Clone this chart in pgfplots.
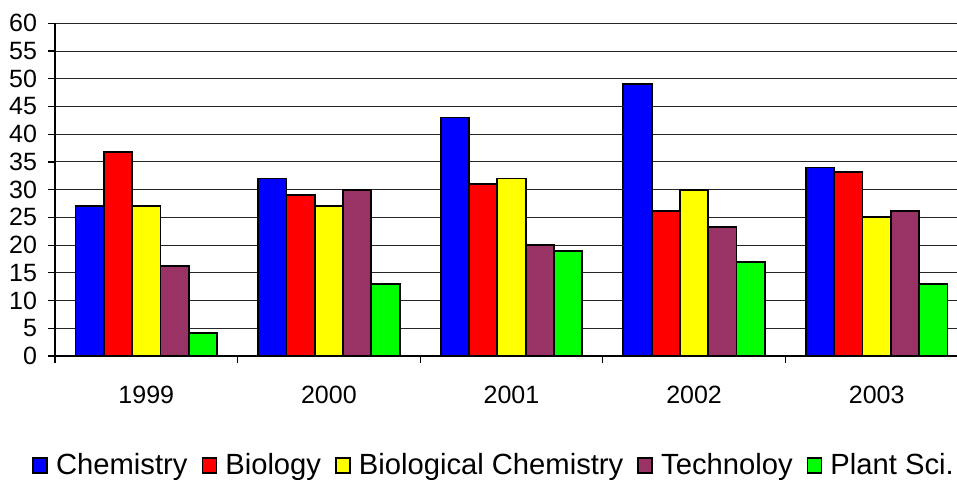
\documentclass[border=0pt]{standalone}
\usepackage{pgfplots}
\pgfplotsset{compat=1.18}
\usepackage{fontspec}
\setmainfont{Liberation Sans}
\definecolor{cchem}{RGB}{0,0,255}
\definecolor{cbio}{RGB}{255,0,0}
\definecolor{cbioch}{RGB}{255,255,0}
\definecolor{ctech}{RGB}{153,51,102}
\definecolor{cplant}{RGB}{0,255,0}
\pgfplotsset{
  mybar/.style={fill=#1, draw=black, line width=0.9pt,
    legend image code/.code={\draw[fill=#1,draw=black,line width=0.8pt] (0pt,-3.5pt) rectangle (7pt,4pt);
      \path[draw=none,fill=none] (0pt,0pt) -- (9.5pt,0pt);}}
}
\begin{document}
\begin{tikzpicture}
\clip (-27.5pt,-61.5pt) rectangle (451pt,178pt);
\begin{axis}[
  at={(0,0)}, anchor=south west,
  scale only axis, width=456.5pt, height=166.35pt,
  xmin=-0.5, xmax=4.5, ymin=0, ymax=60,
  ytick={0,5,...,60},
  xtick={0,1,2,3,4}, xticklabels={1999,2000,2001,2002,2003},
  minor xtick={-0.5,0.5,1.5,2.5,3.5,4.5},
  axis lines*=left,
  axis line style={-, black, line width=0.6pt},
  tick align=outside,
  major tick length=3.5pt, minor tick length=3.5pt,
  major x tick style={draw=none},
  tick style={black, line width=0.6pt},
  ymajorgrids, grid style={black!85, line width=0.5pt},
  /pgf/number format/assume math mode=true,
  tick label style={font=\fontsize{12.5}{14}\selectfont},
  xticklabel style={yshift=-8pt},
  yticklabel style={xshift=-2pt},
  ybar, bar width=0.155,
  legend style={at={(0.482,-0.33)}, anchor=center, draw=none,
    font=\fontsize{14.6}{16}\selectfont,
    /tikz/every even column/.append style={column sep=5pt}},
  legend columns=-1,
]
\addplot[mybar=cchem, bar shift=-0.31] coordinates {(0,27) (1,32) (2,43) (3,49) (4,34)};
\addplot[mybar=cbio, bar shift=-0.155] coordinates {(0,36.8) (1,29) (2,31) (3,26.2) (4,33.2)};
\addplot[mybar=cbioch, bar shift=0] coordinates {(0,27) (1,27) (2,32) (3,30) (4,25)};
\addplot[mybar=ctech, bar shift=0.155] coordinates {(0,16.2) (1,30) (2,20) (3,23.3) (4,26.2)};
\addplot[mybar=cplant, bar shift=0.31] coordinates {(0,4.2) (1,13) (2,19) (3,17) (4,13)};
\legend{Chemistry, Biology, Biological Chemistry, Technoloy, Plant Sci.}
\end{axis}
\end{tikzpicture}
\end{document}
